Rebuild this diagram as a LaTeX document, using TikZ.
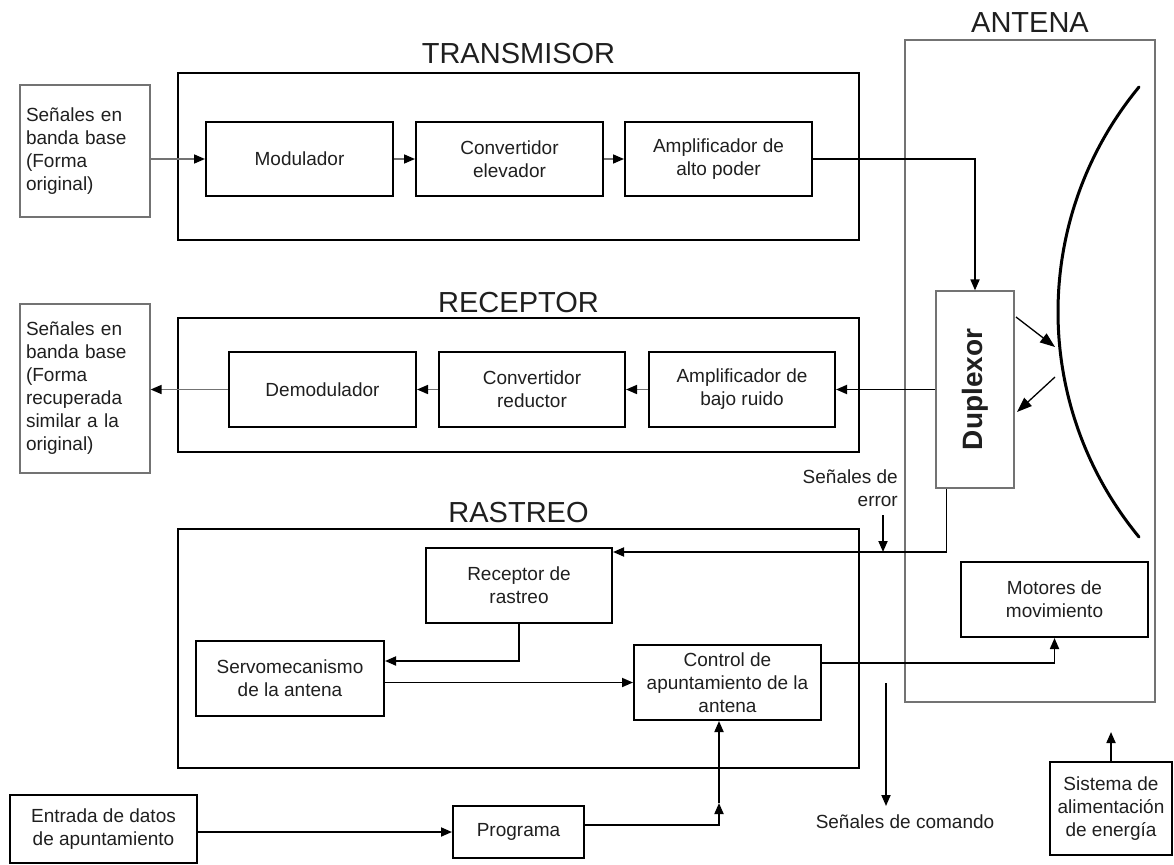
\documentclass[tikz,border=0pt]{standalone}
\usepackage{fontspec}
\usepackage{graphicx}
\setmainfont{Liberation Sans}
\usetikzlibrary{arrows.meta}
\begin{document}
\begin{tikzpicture}[x=1pt,y=-1pt,
  every node/.style={text=black!88},
  body/.style={font=\fontsize{19}{23}\selectfont},
  title/.style={font=\fontsize{29}{34}\selectfont, inner sep=0pt},
  group/.style={draw=black, line width=2.4pt, inner sep=0pt},
  block/.style={draw=black, line width=2pt, inner sep=0pt, align=center, body},
  thinbox/.style={draw=black!55, line width=1.2pt, inner sep=0pt, body},
  wire/.style={black, line width=1.8pt, -{Triangle[length=11pt,width=9pt]}},
  link/.style={black!55, line width=1.6pt, -{Triangle[length=11pt,width=9pt,color=black]}},
  beam/.style={black, line width=1.3pt, -{Triangle[length=15pt,width=11pt]}},
]
\useasboundingbox (0,0) rectangle (1174,864);

% ---------- group frames and titles ----------
\node[group, minimum width=681pt, minimum height=167pt] (tx) at (518.5,156.5) {};
\node[group, minimum width=681pt, minimum height=134pt] (rx) at (518.5,385) {};
\node[group, minimum width=681pt, minimum height=239pt] (tr) at (518.5,648.5) {};
\node[thinbox, minimum width=250pt, minimum height=662pt] (ant) at (1030,371) {};

\node[title] (txt) at (518.5,54) {TRANSMISOR};
\node[title] (rxt) at (518.5,303) {RECEPTOR};
\node[title] (trt) at (518.5,513) {RASTREO};
\node[title] (antt) at (1030,23) {ANTENA};

% ---------- baseband terminals ----------
\node[thinbox, minimum width=130pt, minimum height=132pt, text width=118pt, align=left] (bbin) at (85,151)
  {Señales en\\banda base\\(Forma\\original)};
\node[thinbox, minimum width=130pt, minimum height=169pt, text width=118pt, align=left] (bbout) at (85,388.5)
  {Señales en\\banda base\\(Forma\\recuperada\\similar a la\\original)};

% ---------- transmitter chain ----------
\node[block, minimum width=187pt, minimum height=74pt] (mod) at (299.5,159) {Modulador};
\node[block, minimum width=187pt, minimum height=74pt] (up) at (509.5,159) {Convertidor\\elevador};
\node[block, minimum width=187pt, minimum height=74pt] (hpa) at (718.5,159) {Amplificador de\\alto poder};

% ---------- receiver chain ----------
\node[block, minimum width=187pt, minimum height=75pt] (dem) at (322.5,389.5) {Demodulador};
\node[block, minimum width=186pt, minimum height=75pt] (down) at (532,389.5) {Convertidor\\reductor};
\node[block, minimum width=186pt, minimum height=75pt] (lna) at (742,389.5) {Amplificador de\\bajo ruido};

% ---------- antenna ----------
\node[thinbox, minimum width=78pt, minimum height=197pt] (dup) at (975,389.5)
  {\rotatebox{90}{\bfseries\fontsize{28}{30}\selectfont Duplexor}};
\draw[line width=3pt, line cap=round] (1139,87) .. controls (1031,218) and (1031,406) .. (1139,537);
\coordinate (b1) at (1016,317);
\coordinate (b2) at (1055,347);
\coordinate (b3) at (1055,377);
\coordinate (b4) at (1017,412);
\draw[beam] (b1) -- (b2);
\draw[beam] (b3) -- (b4);
\node[block, minimum width=187pt, minimum height=75pt] (mot) at (1054.5,599.5) {Motores de\\movimiento};

% ---------- tracking ----------
\node[block, minimum width=186pt, minimum height=75pt] (trx) at (519,585.5) {Receptor de\\rastreo};
\node[block, minimum width=188pt, minimum height=75pt] (servo) at (290,678.5) {Servomecanismo\\de la antena};
\node[block, minimum width=187pt, minimum height=75pt] (ctrl) at (727.5,682.5) {Control de\\apuntamiento de la\\antena};

% ---------- pointing data ----------
\node[block, minimum width=187pt, minimum height=68pt] (data) at (103.5,829) {Entrada de datos\\de apuntamiento};
\node[block, minimum width=131pt, minimum height=52pt] (prog) at (518.5,832) {Programa};
\node[block, minimum width=122pt, minimum height=93pt] (psu) at (1111,808.5) {Sistema de\\alimentación\\de energía};

% ---------- free labels ----------
\node[body, align=right, anchor=east, inner sep=0pt] (errl) at (898,488) {Señales de\\error};
\node[body, inner sep=0pt] (cmdl) at (905,822) {Señales de comando};

% ---------- connectors ----------
\draw[link] (bbin.east |- mod.west) -- (mod.west);
\draw[link] (mod) -- (up);
\draw[link] (up) -- (hpa);
\draw[wire] (hpa.east) -| (dup.north);

\draw[wire] (dup.west) -- (lna.east);
\draw[link] (lna) -- (down);
\draw[link] (down) -- (dem);
\draw[link] (dem.west) -- (bbout.east |- dem.west);

\draw[wire] ([xshift=11pt]dup.south west) |- ([yshift=-5pt]trx.north east);
\coordinate (ea) at (883,515);
\coordinate (eb) at (883,552);
\draw[wire] (ea) -- (eb);

\draw[wire] (trx.south) |- ([yshift=17.5pt]servo.east);
\draw[wire] (servo.east |- ctrl.west) -- (ctrl.west);
\draw[wire] ([yshift=19.5pt]ctrl.east) -| (mot.south);

\coordinate (ca) at (886,683);
\coordinate (cb) at (886,806);
\draw[wire] (ca) -- (cb);

\coordinate (pa) at (1111,732);
\draw[wire] (psu.north) -- (pa);

\draw[wire] (data.east |- prog.west) -- (prog.west);
\coordinate (pm) at (719,803);
\draw[wire] ([yshift=7pt]prog.east) -| (pm);
\draw[wire] (pm) -- ([xshift=-8.5pt]ctrl.south);
\end{tikzpicture}
\end{document}
